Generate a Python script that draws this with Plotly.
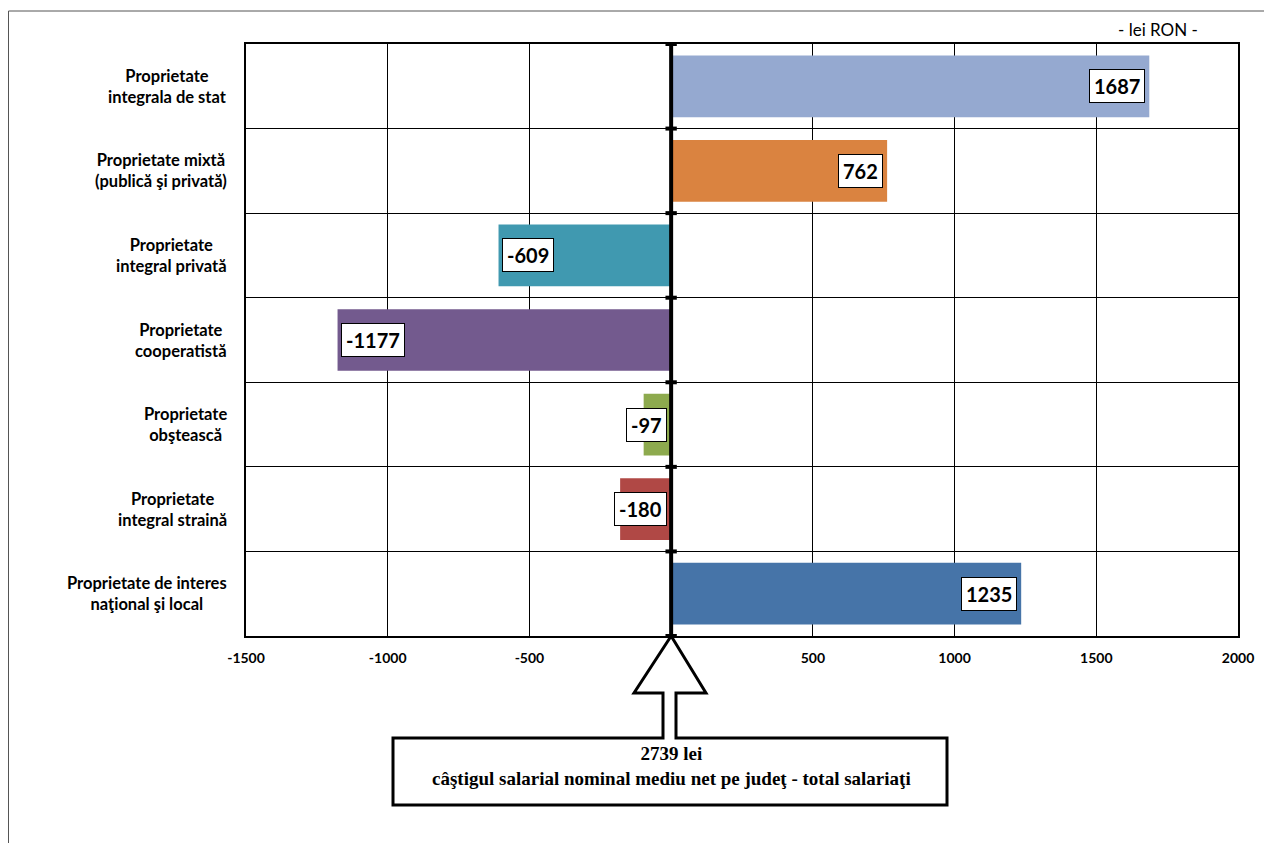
import plotly.graph_objects as go

categories = [
    "Proprietate<br>integrala de stat",
    "Proprietate mixtă<br>(publică şi privată)",
    "Proprietate<br>integral privată",
    "Proprietate<br>cooperatistă",
    "Proprietate<br>obştească",
    "Proprietate<br>integral straină",
    "Proprietate de interes<br>naţional şi local",
]
values = [1687, 762, -609, -1177, -97, -180, 1235]
colors = ["#95A9D0", "#DA8340", "#4099B0", "#735A8E", "#8DAA4E", "#B04845", "#4674A8"]
x_ticks = [-1500, -1000, -500, 0, 500, 1000, 1500, 2000]
x_tick_labels = ["-1500", "-1000", "-500", "", "500", "1000", "1500", "2000"]
total_text = "2739 lei<br>câştigul salarial nominal mediu net pe judeţ - total salariaţi"
unit_text = "- lei RON -"

# page offset (body margin) of 8 px is compensated
OFF = 8
W, H = 1272 - OFF, 843 - OFF
L, R, T, B = 246 - OFF, 34, 44 - OFF, 207
pw = W - L - R
ph = H - T - B
SANS = "Lato, 'Liberation Sans', sans-serif"


def pxp(p):  # page x -> paper x
    return (p - OFF - L) / pw


def py(p):  # page y -> paper y
    return (H - B - (p - OFF)) / ph


def pxd(p):  # page x -> data x
    return pxp(p) * 3500 - 1500


fig = go.Figure()
fig.add_trace(go.Bar(
    y=list(range(len(categories))), x=values, orientation="h",
    marker=dict(color=colors, line=dict(width=0)), width=0.73,
    hoverinfo="x",
))

ann = []
for i, (c, v) in enumerate(zip(categories, values)):
    ann.append(dict(x=pxp(229), xref="paper", y=i, yref="y", text="<b>" + c + "</b>",
                    showarrow=False, xanchor="right", yanchor="middle", align="center",
                    font=dict(family=SANS, size=16.5, color="black")))
    if v > 0:
        ax, xa, xs = v, "right", -4
    elif abs(v) < 250:
        ax, xa, xs = 0, "right", -4
    else:
        ax, xa, xs = v, "left", 3
    ann.append(dict(x=ax, y=i, xref="x", yref="y", text="<b>%d</b>" % v, showarrow=False,
                    xanchor=xa, yanchor="middle", xshift=xs, bgcolor="white", bordercolor="black",
                    borderwidth=1, borderpad=4, font=dict(family=SANS, size=20, color="black")))

ann.append(dict(x=pxp(1158), y=py(30), xref="paper", yref="paper", text=unit_text,
                xanchor="center", yanchor="middle",
                showarrow=False, font=dict(family=SANS, size=17, color="black")))

ann.append(dict(x=0, y=py(766), xref="x", yref="paper", text="<b>" + total_text + "</b>",
                showarrow=False, align="center", xanchor="center", yanchor="middle",
                font=dict(family="'Liberation Serif', serif", size=19, color="black")))

shapes = []
# outer frame
shapes.append(dict(type="rect", xref="paper", yref="paper", x0=pxp(OFF + 0.5), x1=pxp(1290),
                   y0=py(870), y1=py(11), line=dict(color="#555555", width=1), layer="below"))
# arrow + box polygon
bx0, bx1 = pxd(393), pxd(947)
sl, sr = pxd(663), pxd(676)
al, ar = pxd(634), pxd(706)
yb_top, yb_bot = py(738), py(805)
ybase = py(693)
path = (f"M {sl},{yb_top} L {bx0},{yb_top} L {bx0},{yb_bot} L {bx1},{yb_bot} L {bx1},{yb_top} "
        f"L {sr},{yb_top} L {sr},{ybase} L {ar},{ybase} L 0,0 L {al},{ybase} L {sl},{ybase} Z")
shapes.append(dict(type="path", xref="x", yref="paper", path=path, fillcolor="white",
                   line=dict(color="black", width=3), layer="below"))
# zero axis line
shapes.append(dict(type="line", xref="x", yref="paper", x0=0, x1=0, y0=0, y1=1,
                   line=dict(color="black", width=4)))
for k in range(len(categories) + 1):
    yv = k - 0.5
    shapes.append(dict(type="line", xref="x", yref="y", x0=-20, x1=20, y0=yv, y1=yv,
                       line=dict(color="black", width=4)))

fig.update_layout(
    width=W, height=H, margin=dict(l=L, r=R, t=T, b=B),
    paper_bgcolor="white", plot_bgcolor="white", showlegend=False,
    annotations=ann, shapes=shapes,
    xaxis=dict(range=[-1500, 2000], tickvals=x_ticks, ticktext=["<b>" + t + "</b>" for t in x_tick_labels],
               showgrid=True, gridcolor="black", gridwidth=1, zeroline=False,
               showline=True, linecolor="black", linewidth=1.5, mirror=True,
               ticks="outside", ticklen=8, tickcolor="rgba(0,0,0,0)",
               tickfont=dict(family=SANS, size=14, color="black")),
    yaxis=dict(range=[len(categories) - 0.5, -0.5], tickvals=[k - 0.5 for k in range(len(categories) + 1)],
               showticklabels=False, showgrid=True, gridcolor="black", gridwidth=1, zeroline=False,
               showline=True, linecolor="black", linewidth=1.5, mirror=True, ticks=""),
)

fig.write_html("out.html")
